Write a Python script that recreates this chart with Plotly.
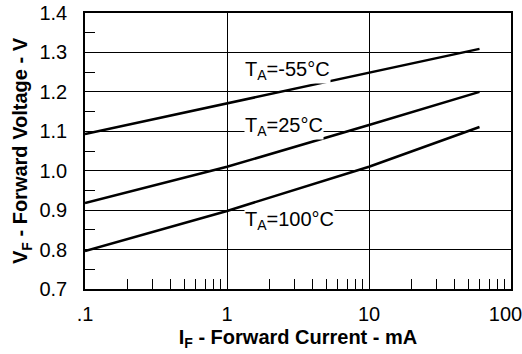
import math
import plotly.graph_objects as go

current_ma = [0.1, 1, 10, 60]
vf_m55 = [1.093, 1.171, 1.248, 1.309]
vf_25 = [0.918, 1.010, 1.116, 1.200]
vf_100 = [0.796, 0.898, 1.010, 1.111]

series = [("T<sub>A</sub>=-55°C", vf_m55), ("T<sub>A</sub>=25°C", vf_25), ("T<sub>A</sub>=100°C", vf_100)]
label_pos = [(1.32, 1.255), (1.32, 1.111), (1.32, 0.875)]

x_tickvals = [0.1, 1, 10, 100]
x_ticktext = [".1", "1", "10", "100\u00a0\u00a0"]
x_minor = [m * d for d in (0.1, 1, 10) for m in range(2, 10)]
y_tickvals = [0.7, 0.8, 0.9, 1.0, 1.1, 1.2, 1.3, 1.4]
y_minor = [0.75, 0.85, 0.95, 1.05, 1.15, 1.25, 1.35]

FONT = "Arial, Liberation Sans, Helvetica, sans-serif"

fig = go.Figure()
for name, ys in series:
    fig.add_trace(go.Scatter(x=current_ma, y=ys, mode="lines",
                             line=dict(color="black", width=2.5), name=name,
                             showlegend=False, hoverinfo="skip"))

for (name, _), (lx, ly) in zip(series, label_pos):
    fig.add_annotation(x=math.log10(lx), y=ly, xref="x", yref="y", text=name, showarrow=False,
                       xanchor="left", yanchor="middle",
                       font=dict(family=FONT, size=20, color="black"),
                       bgcolor="white", borderpad=0)

fig.update_xaxes(type="log", range=[-1, 2], tickvals=x_tickvals, ticktext=x_ticktext,
                 ticks="", showgrid=True, gridcolor="black", gridwidth=1,
                 showline=True, mirror=True, linecolor="black", linewidth=1.5,
                 tickfont=dict(family=FONT, size=20, color="black"),
                 ticklabelstandoff=6, automargin=False, ticklabeloverflow="allow",
                 minor=dict(tickvals=x_minor, ticks="inside", ticklen=10,
                            tickcolor="black", tickwidth=1, showgrid=False),
                 title=dict(text="<b>I<sub>F</sub> - Forward Current - mA</b>",
                            font=dict(family=FONT, size=20, color="black"), standoff=6),
                 zeroline=False)
fig.update_yaxes(range=[0.7, 1.4], tickvals=y_tickvals,
                 ticktext=[f"{v:.1f}" for v in y_tickvals],
                 ticks="", showgrid=True, gridcolor="black", gridwidth=1,
                 showline=True, mirror=True, linecolor="black", linewidth=1.5,
                 tickfont=dict(family=FONT, size=20, color="black"),
                 ticklabelstandoff=12, automargin=False, ticklabeloverflow="allow",
                 minor=dict(tickvals=y_minor, ticks="inside", ticklen=10,
                            tickcolor="black", tickwidth=1, showgrid=False),
                 title=dict(text="<b>V<sub>F</sub> - Forward Voltage - V</b>",
                            font=dict(family=FONT, size=20, color="black"), standoff=6),
                 zeroline=False)

fig.update_layout(width=522, height=354, margin=dict(l=85, r=11, t=13, b=65),
                  plot_bgcolor="white", paper_bgcolor="white",
                  font=dict(family=FONT, color="black"))
fig.write_html("out.html", config={"displayModeBar": False},
               post_script="document.body.style.margin='0px';")
